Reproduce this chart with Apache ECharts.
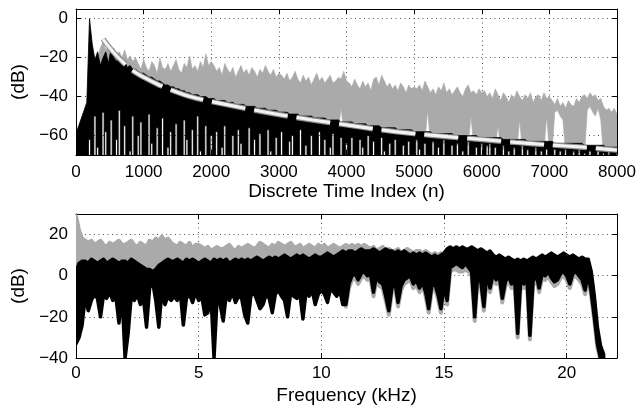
<!DOCTYPE html>
<html><head><meta charset="utf-8">
<script src="https://cdn.jsdelivr.net/npm/echarts@6/dist/echarts.min.js"></script>
<style>html,body{margin:0;padding:0;background:#fff}#c{width:639px;height:410px}</style>
</head><body><div id="c"></div>
<script>
// ---------- TOP PANEL: time index n (one bin every timeStep samples) ----------
const timeStep = 40;
const timeTicks = [0, 1000, 2000, 3000, 4000, 5000, 6000, 7000, 8000];
const topDbTicks = [-60, -40, -20, 0];
const topDbMin = -70, topDbMax = 5;
// gray response: per-bin upper / lower level (dB)
const grayHigh = [
 -62,-60,-57,-54,-48,-4,-16,-24,-20,-15,-12,-16,-14,-18,-15,-19,-17,-20,-16,-21,-19,-22,-20,
 -23,-26,-21,-25,-27,-22,-24,-28,-20,-25,-26,-23,-27,-24,-21,-26,-28,-23,-25,-19,-26,-24,-27,-22,-25,-18,-24,-22,
 -24,-27,-25,-29,-23,-26,-28,-25,-30,-27,-24,-28,-26,-29,-25,-27,-30,-26,-28,-24,-27,-29,-26,-30,-28,
 -29,-31,-28,-32,-30,-27,-31,-33,-29,-32,-30,-34,-31,-28,-32,-30,-33,-31,-29,-33,-32,-30,-31,-27,-32,
 -33,-35,-31,-34,-36,-32,-35,-33,-37,-31,-30,-34,-29,-32,-35,-33,-36,-34,-37,-33,-35,-38,-34,-36,-35,
 -36,-34,-37,-32,-35,-38,-36,-39,-35,-37,-33,-38,-36,-39,-37,-35,-38,-40,-36,-34,-38,-37,-39,-36,-38,
 -37,-40,-38,-41,-36,-39,-42,-38,-40,-43,-39,-41,-37,-40,-42,-39,-41,-38,-43,-40,-39,-42,-38,-41,-40,
 -42,-44,-41,-45,-43,-46,-42,-44,-45,-41,-43,-40,-39,-41,-38,-40,-39,-42,-41,-45,-47,-46,-48,-46,-49];
const grayLow = [
 -70,-70,-70,-70,-70,-60,
 -30,-32,-30,-34,-30,-28,-32,-27,-30,-32,-30,-34,-32,-35,-34,-36,-36,
 -32,-33,-33,-34,-35,-35,-36,-37,-37,-38,-39,-39,-40,-40,-41,-41,-42,-42,-43,-43,-44,-44,-44,-45,-45,-45,-46,-46,
 -46,-47,-47,-47,-47,-48,-48,-48,-49,-49,-49,-49,-50,-50,-50,-50,-51,-51,-51,-51,-52,-52,-52,-52,-53,
 -53,-53,-53,-54,-54,-54,-54,-55,-55,-55,-55,-55,-56,-56,-56,-56,-56,-57,-57,-57,-57,-57,-46,-58,-58,
 -58,-58,-59,-59,-59,-59,-59,-60,-60,-60,-60,-60,-61,-61,-61,-61,-61,-61,-62,-62,-62,-62,-62,-62,-63,
 -63,-63,-63,-63,-47,-63,-64,-64,-64,-64,-64,-64,-64,-64,-65,-65,-65,-65,-65,-65,-50,-65,-65,-66,-66,
 -66,-66,-66,-66,-66,-55,-66,-67,-67,-67,-67,-67,-67,-52,-67,-67,-68,-68,-68,-68,-68,-68,-68,-50,-68,
 -68,-48,-47,-50,-52,-69,-69,-69,-69,-69,-69,-69,-70,-47,-45,-48,-50,-46,-52,-70,-70,-70,-70,-70,-70];
// black response: per-bin upper / lower level (dB)
const blackHigh = [
 -59,-55,-51,-47,-43,0,-13,-21,-17,-24,-20,-17,-23,-15,-20,-22,-19,-24,-22,-25,-24,-26,-26,
 -27,-28,-28,-29,-30,-30,-31,-32,-32,-33,-34,-34,-35,-35,-36,-36,-37,-37,-38,-38,-39,-39,-39,-40,-40,-40,-41,-41,
 -41,-42,-42,-42,-42,-43,-43,-43,-44,-44,-44,-44,-45,-45,-45,-45,-46,-46,-46,-46,-47,-47,-47,-47,-48,
 -48,-48,-48,-49,-49,-49,-49,-50,-50,-50,-50,-50,-51,-51,-51,-51,-51,-52,-52,-52,-52,-52,-53,-53,-53,
 -53,-53,-54,-54,-54,-54,-54,-55,-55,-55,-55,-55,-56,-56,-56,-56,-56,-56,-57,-57,-57,-57,-57,-57,-58,
 -58,-58,-58,-58,-58,-58,-59,-59,-59,-59,-59,-59,-59,-59,-60,-60,-60,-60,-60,-60,-60,-60,-60,-61,-61,
 -61,-61,-61,-61,-61,-61,-61,-62,-62,-62,-62,-62,-62,-62,-62,-62,-63,-63,-63,-63,-63,-63,-63,-63,-63,
 -63,-64,-64,-64,-64,-64,-64,-64,-64,-64,-64,-64,-65,-65,-65,-65,-65,-65,-65,-65,-66,-66,-66,-66,-66];
const blackLow = [
 -70,-70,-70,-70,-70,-62,
 -70,-50,-66,-70,-48,-58,-70,-52,-70,-62,-47,-70,-55,-70,-68,-50,-70,-60,-53,-70,-70,-49,-64,-70,-56,-70,-51,-70,-66,-58,-70,-54,-70,-70,-52,-62,-70,-57,-70,-50,-68,-70,-55,-70,-60,
 -70,-58,-70,-66,-55,-70,-70,-60,-70,-57,-64,-70,-70,-56,-70,-62,-70,-59,-70,-70,-57,-68,-70,-61,-70,-58,-70,-70,-63,-60,-70,-70,-57,-70,-65,-70,-60,-70,-70,-58,-70,-62,-70,-66,-59,-70,-70,-61,-70,-64,
 -70,-61,-70,-70,-62,-66,-70,-60,-70,-63,-70,-70,-61,-68,-70,-64,-70,-62,-70,-70,-65,-70,-63,-70,-70,-62,-67,-70,-64,-70,-70,-63,-70,-66,-70,-62,-70,-70,-65,-70,-64,-70,-68,-70,-63,-70,-70,-66,-70,-64,
 -70,-65,-64,-70,-66,-70,-70,-65,-70,-68,-70,-66,-70,-70,-65,-70,-67,-70,-70,-66,-70,-68,-70,-67,-70,-70,-67,-70,-68,-70,-67,-70,-70,-68,-70,-67,-70,-69,-70,-68,-70,-70,-68,-70,-69,-70,-68,-70,-70,-69];
// dashed decay envelope
const envN  = [400,500,600,700,800,900,1000,1200,1400,1600,1800,2000,2500,3000,3500,4000,4500,5000,5500,6000,6500,7000,7500,8000];
const envDb = [-10.5,-15,-19,-22.5,-25.5,-28,-30,-33.5,-36.5,-39,-41,-42.5,-46,-49.2,-52,-54.5,-57,-59,-60.6,-62,-63.5,-64.8,-66,-67.5];

// ---------- BOTTOM PANEL: frequency (kHz), one bin every freqStep kHz ----------
const freqStep = 0.125;
const freqTicks = [0, 5, 10, 15, 20];
const botDbTicks = [-40, -20, 0, 20];
const specGrayTop = [
 29,22,18,17,16,17,15,16, 17,15,14,16,15,16,17,15, 15,16,17,15,14,16,15,14, 17,16,18,17,19,17,18,16,
 15,14,16,15,14,16,13,15, 15,14,13,14,12,13,14,13, 13,14,15,13,12,14,13,14, 15,14,13,14,16,15,14,13,
 15,14,16,15,14,15,16,14, 14,15,13,14,15,14,13,15, 14,15,13,14,15,14,13,14, 15,14,15,14,15,14,15,14,
 13,14,12,13,14,12,13,12, 12,13,11,12,13,12,11,12, 12,11,12,11,10,11,10,11, 10,12,13,12,13,12,13,12,
 12,13,12,11,12,11,10,11, 9,8,9,8,7,8,7,6, 7,6,7,6,7,8,7,8, 9,8,9,10,9,8,9,10,
 9,8,9,8,7,8,7,7, 0,-12,-27,-35,-39];
const specGrayBot = [
 0,1,0,2,1,0,2,1, 1,0,2,1,0,1,2,0, 1,0,1,2,0,1,2,1, 2,1,2,1,0,2,1,0,
 1,2,0,1,2,1,0,1, 2,1,0,1,2,0,1,2, 1,0,2,1,0,1,2,1, 0,1,2,1,0,2,1,0,
 1,2,1,0,1,2,1,0, 2,1,0,1,2,1,0,1, 1,0,1,2,1,0,1,-1, -15,-6,-2,-1,-4,-1,0,-2,
 -1,-10,-2,-5,-6,-12,-19,-8, -5,-15,-7,-4,-3,-2,-6,-4, -8,-5,-10,-18,-7,-6,-11,-18, -7,-14,2,3,3,2,2,3,
 2,0,-22,-1,-5,-17,0,-8, -1,-4,-2,-13,-5,-2,-6,-3, -30,-4,-6,-2,-31,-5,-1,-8, -1,-2,0,-3,-5,-4,-1,0,
 -2,-6,-1,0,-2,-4,-9,-1, -10,-22,-35,-41,-42];
const specBlackTop = [
 2,6,7,7,6,8,7,6, 7,8,6,7,8,7,6,7, 7,6,8,7,6,5,4,3, 3,2,3,5,6,7,8,7,
 7,8,7,6,8,7,8,7, 6,7,8,7,6,8,7,8, 7,8,6,7,8,7,8,7, 8,7,8,9,8,7,8,9,
 8,9,8,9,10,9,8,9, 10,9,10,9,8,9,10,9, 9,10,11,10,9,10,11,12, 11,12,12,11,12,13,12,12,
 12,13,12,11,12,13,12,12, 11,12,11,12,11,10,11,10, 11,10,11,10,9,10,9,10, 11,13,14,13,14,13,14,13,
 13,14,13,12,13,12,11,12, 10,9,10,9,8,9,8,7, 8,7,8,7,8,9,8,9, 10,9,10,11,10,9,10,11,
 10,9,10,9,8,9,8,8, 2,-10,-25,-34,-38];
const specBlackBot = [
 -33,-30,-24,-10,-17,-12,-9,-11, -20,-9,-11,-8,-12,-10,-23,-9, -40,-28,-10,-12,-9,-14,-11,-25, -6,-3,-12,-25,-8,-14,-10,-12,
 -10,-12,-8,-24,-11,-9,-13,-8, -12,-10,-19,-18,-9,-40,-11,-14, -22,-9,-12,-8,-13,-10,-11,-19, -23,-10,-8,-12,-16,-14,-9,-11,
 -18,-9,-7,-10,-12,-20,-8,-10, -11,-9,-21,-8,-10,-7,-14,-9, -7,-9,-13,-6,-8,-10,-7,-14, -14,-4,0,1,-2,1,2,0,
 1,-8,0,-3,-4,-10,-17,-6, -3,-13,-5,-2,-1,0,-4,-2, -6,-3,-8,-16,-5,-4,-9,-16, -5,-12,4,5,6,5,4,6,
 4,2,-20,1,-3,-15,2,-6, 1,-2,0,-11,-3,0,-4,-1, -28,-2,-4,0,-29,-3,1,-6, 1,0,2,-1,-3,-2,1,2,
 0,-4,1,2,0,-2,-7,1, -8,-20,-33,-40,-41];

const lens = [grayHigh.length, grayLow.length, blackHigh.length, blackLow.length];
const slens = [specGrayTop.length, specGrayBot.length, specBlackTop.length, specBlackBot.length];
if (lens.some(l => l !== 201) || slens.some(l => l !== 173)) throw new Error('length mismatch ' + lens + ' / ' + slens);

const FONT = 'Liberation Sans, Arial, Helvetica, sans-serif';
const minus = v => String(v).replace('-', '\u2212');
const inTicks = list => v => (list.some(t => Math.abs(t - v) < 1e-6) ? minus(v) : '');

// filled band between a lower and an upper level, drawn through the axis scales.
// With notchW set, the lower level is drawn as thin gaps rising from the floor.
function band(xs, lo, hi, color, strokeW, idx, notchW, floorVal) {
  return {
    type: 'custom', xAxisIndex: idx, yAxisIndex: idx, clip: true, silent: true,
    data: xs.map((x, i) => [x, lo[i], hi[i]]),
    encode: {x: 0, y: [1, 2]},
    renderItem: function (params, api) {
      if (params.dataIndex !== 0) return null;
      const pts = [];
      for (let i = 0; i < xs.length; i++) pts.push(api.coord([xs[i], hi[i]]));
      for (let i = xs.length - 1; i >= 0; i--) {
        if (notchW) {
          const b = api.coord([xs[i], floorVal]);
          if (lo[i] > floorVal) {
            const c = api.coord([xs[i], lo[i]]);
            pts.push([c[0] + notchW / 2, b[1]], [c[0] + notchW / 2, c[1]],
                     [c[0] - notchW / 2, c[1]], [c[0] - notchW / 2, b[1]]);
          } else pts.push(b);
        } else pts.push(api.coord([xs[i], lo[i]]));
      }
      return {type: 'polygon', shape: {points: pts},
        style: {fill: color, stroke: strokeW ? color : null, lineWidth: strokeW, lineJoin: 'round'}};
    }
  };
}
const tN = grayHigh.map((_, i) => i * timeStep);
const fK = specBlackTop.map((_, i) => i * freqStep);

const tickStyle = {inside: true, length: 5, lineStyle: {color: '#000', width: 1}};
const gridLine = {show: true, lineStyle: {color: '#555', width: 1, type: [1, 3.5]}};
const labelStyle = {color: '#000', fontFamily: FONT, fontSize: 17};
const nameStyle = {color: '#000', fontFamily: FONT, fontSize: 19};
const frame = {show: true, onZero: false, lineStyle: {color: '#000', width: 1}};

function xAxes(gi, min, max, interval, ticks, name, nameGap, margin) {
  return [
    {type: 'value', gridIndex: gi, min, max, interval, position: 'bottom',
     axisLine: frame, axisTick: tickStyle, splitLine: gridLine,
     axisLabel: Object.assign({margin, formatter: inTicks(ticks)}, labelStyle),
     name, nameLocation: 'middle', nameGap, nameTextStyle: nameStyle},
    {type: 'value', gridIndex: gi, min, max, interval, position: 'top',
     axisLine: frame, axisTick: tickStyle, splitLine: {show: false}, axisLabel: {show: false}}
  ];
}
function yAxes(gi, min, max, extra, ticks) {
  return [
    Object.assign({type: 'value', gridIndex: gi, min, max, position: 'left',
     axisLine: frame, axisTick: tickStyle, splitLine: gridLine,
     axisLabel: Object.assign({margin: 8, formatter: inTicks(ticks)}, labelStyle),
     name: '(dB)', nameLocation: 'middle', nameRotate: 90, nameGap: 46, nameTextStyle: nameStyle}, extra),
    Object.assign({type: 'value', gridIndex: gi, min, max, position: 'right',
     axisLine: frame, axisTick: tickStyle, splitLine: {show: false}, axisLabel: {show: false}}, extra)
  ];
}

const series = [
  band(tN, grayLow, grayHigh, '#aaaaaa', 0.6, 0),
  band(tN, blackLow, blackHigh, '#000000', 0.8, 0, 2.1, topDbMin),
  {type: 'line', xAxisIndex: 0, yAxisIndex: 0, symbol: 'none', smooth: 0.3, silent: true,
   data: envN.map((n, i) => [n, envDb[i]]), lineStyle: {color: '#8a8a8a', width: 5.5, type: [34, 9], cap: 'butt'}},
  {type: 'line', xAxisIndex: 0, yAxisIndex: 0, symbol: 'none', smooth: 0.3, silent: true,
   data: envN.map((n, i) => [n, envDb[i]]), lineStyle: {color: '#f2f2f2', width: 3.2, type: [34, 9], cap: 'butt'}},
  band(fK, specGrayBot, specGrayTop, '#aaaaaa', 4, 2),
  band(fK, specBlackBot, specBlackTop, '#000000', 3.5, 2)
];

const chart = echarts.init(document.getElementById('c'));
chart.setOption({
  animation: false,
  backgroundColor: '#fff',
  grid: [
    {left: 76, top: 9, width: 541, height: 146},
    {left: 76, top: 214, width: 541, height: 144}
  ],
  xAxis: [].concat(
    xAxes(0, 0, 8000, 1000, timeTicks, 'Discrete Time Index (n)', 18, 9),
    xAxes(1, 0, 22.05, 5, freqTicks, 'Frequency (kHz)', 28, 7)
  ),
  yAxis: [].concat(
    yAxes(0, topDbMin, topDbMax, {splitNumber: 4}, topDbTicks),
    yAxes(1, -40, 30, {interval: 20}, botDbTicks)
  ),
  series: series
});
</script></body></html>
